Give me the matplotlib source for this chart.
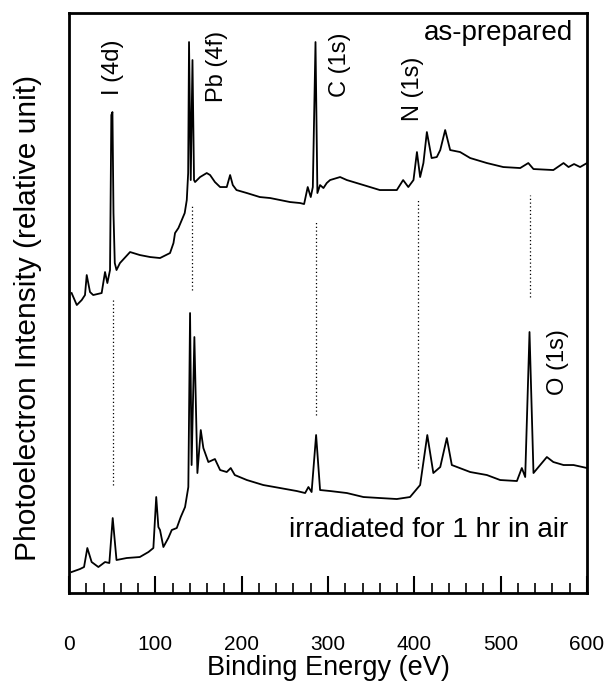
import matplotlib.pyplot as plt

plt.rcParams['font.family'] = ['Liberation Sans', 'DejaVu Sans']

## Data (intensity in relative units)

# as-prepared spectrum
e_prep = [3, 9, 14.7, 18.5, 20.5, 24.3, 28, 37.8, 41.7, 44.4, 47.5, 49.0, 50.3, 51.5, 53,
          55, 59, 70.7, 74.5, 82, 94, 105.4, 117, 121, 122.8, 126.7, 130.6, 134, 136.4,
          138, 139, 141, 143, 144.8, 146, 151.8, 159.5, 163.4, 169, 175, 182.7, 186.6,
          189.7, 194, 206, 221, 233, 244.5, 256, 267.7, 272.3, 276.5, 280, 282.4, 285.5,
          287.7, 290.8, 294.7, 298.5, 302.4, 314, 321.8, 341, 360, 379.7, 387, 393, 399,
          403, 406.7, 410.5, 414.5, 420, 426, 430, 435.7, 441.5, 453, 464.7, 484, 503,
          522.6, 532, 538, 561, 572.8, 578.6, 585, 592, 600]
i_prep = [300, 288, 293, 298, 318, 301, 298, 300, 321, 310, 323, 478, 481, 380, 330,
          323, 330, 341, 340, 338, 336, 335, 340, 350, 360, 365, 373, 380, 393,
          420, 551, 413, 533, 413, 411, 416, 420, 418, 411, 406, 406, 418,
          408, 403, 400, 396, 395, 393, 391, 390, 389, 406, 396, 406, 551,
          400, 408, 405, 410, 413, 416, 413, 408, 403, 403, 413, 406, 413,
          441, 416, 430, 461, 435, 436, 443, 463, 443, 441, 435, 430, 426,
          425, 430, 424, 423, 430, 426, 429, 426, 430]

# irradiated for 1 hr in air
e_irr = [3, 12.7, 17.4, 21.2, 26.2, 34, 41.7, 46.7, 50.6, 55, 66.8, 82, 92, 97.7, 101,
         103.5, 105.4, 109.3, 115, 119, 124.8, 129.4, 134.4, 138.2, 140.2, 142, 145.2,
         148.7, 152.6, 155.6, 161.4, 169, 175, 182.7, 187.3, 192, 206, 225, 244.5, 263.8,
         273.5, 277.3, 281, 286.2, 290.8, 302.4, 321.8, 341, 360, 379.7, 395, 406.7, 415,
         422, 430, 437.6, 443.4, 464.7, 484, 499.4, 518.8, 524.5, 528.4, 533.4, 538,
         543.8, 553.5, 561, 572.8, 584.4, 600]
i_irr = [21, 24, 26, 45, 31, 26, 31, 30, 75, 33, 35, 36, 41, 45, 96,
         66, 63, 46, 55, 63, 65, 76, 86, 106, 280, 128, 256,
         120, 163, 145, 131, 134, 123, 121, 125, 118, 113, 108, 105, 102,
         100, 106, 101, 158, 103, 102, 100, 96, 95, 94, 96, 108, 158,
         120, 126, 155, 128, 121, 118, 113, 112, 125, 116, 261, 120,
         126, 136, 131, 128, 128, 125]

# dotted guide lines
guide_e = [50.6, 143, 286, 404.8, 533.5]
guide_top = [293, 388, 373, 393, 398]
guide_bottom = [108, 303, 178, 125, 296]

# peak labels
peak_names = ['I (4d)', 'Pb (4f)', 'C (1s)', 'N (1s)', 'O (1s)']
peak_e = [51, 171, 314, 398.6, 566.6]
peak_y = [526, 527, 528, 504, 231]

x_ticks = [0, 100, 200, 300, 400, 500, 600]

## Plot
fig = plt.figure(figsize=(6.13, 6.87), dpi=100)
ax = fig.add_axes([0.1126, 0.1368, 0.845, 0.8442])

ax.plot(e_prep, i_prep, color='black', lw=1.3)
ax.plot(e_irr, i_irr, color='black', lw=1.3)

for e, top, bot in zip(guide_e, guide_top, guide_bottom):
    ax.plot([e, e], [bot, top], color='black', lw=0.9, linestyle=(0, (1, 2)))

for name, e, y in zip(peak_names, peak_e, peak_y):
    ax.text(e, y, name, rotation=90, ha='center', va='center', fontsize=17)

ax.text(584, 560, 'as-prepared', ha='right', va='center', fontsize=20)
ax.text(578, 63, 'irradiated for 1 hr in air', ha='right', va='center', fontsize=20)

ax.set_xlim(0, 600)
ax.set_ylim(0, 580)
ax.set_xticks(x_ticks)
ax.set_xticks(range(0, 601, 20), minor=True)
ax.set_yticks([])
ax.tick_params(axis='x', which='major', direction='in', length=12, width=1.5,
               labelsize=15, pad=30)
ax.tick_params(axis='x', which='minor', direction='in', length=7, width=1.2)
for s in ax.spines.values():
    s.set_linewidth(2)

ax.set_xlabel('Binding Energy (eV)', fontsize=19.5, labelpad=1)
ax.set_ylabel('Photoelectron Intensity (relative unit)', fontsize=21.5)
ax.yaxis.set_label_coords(-0.052, 0.475)
ax.yaxis.label.set_va('bottom')

fig.savefig('out.png', dpi=100)
